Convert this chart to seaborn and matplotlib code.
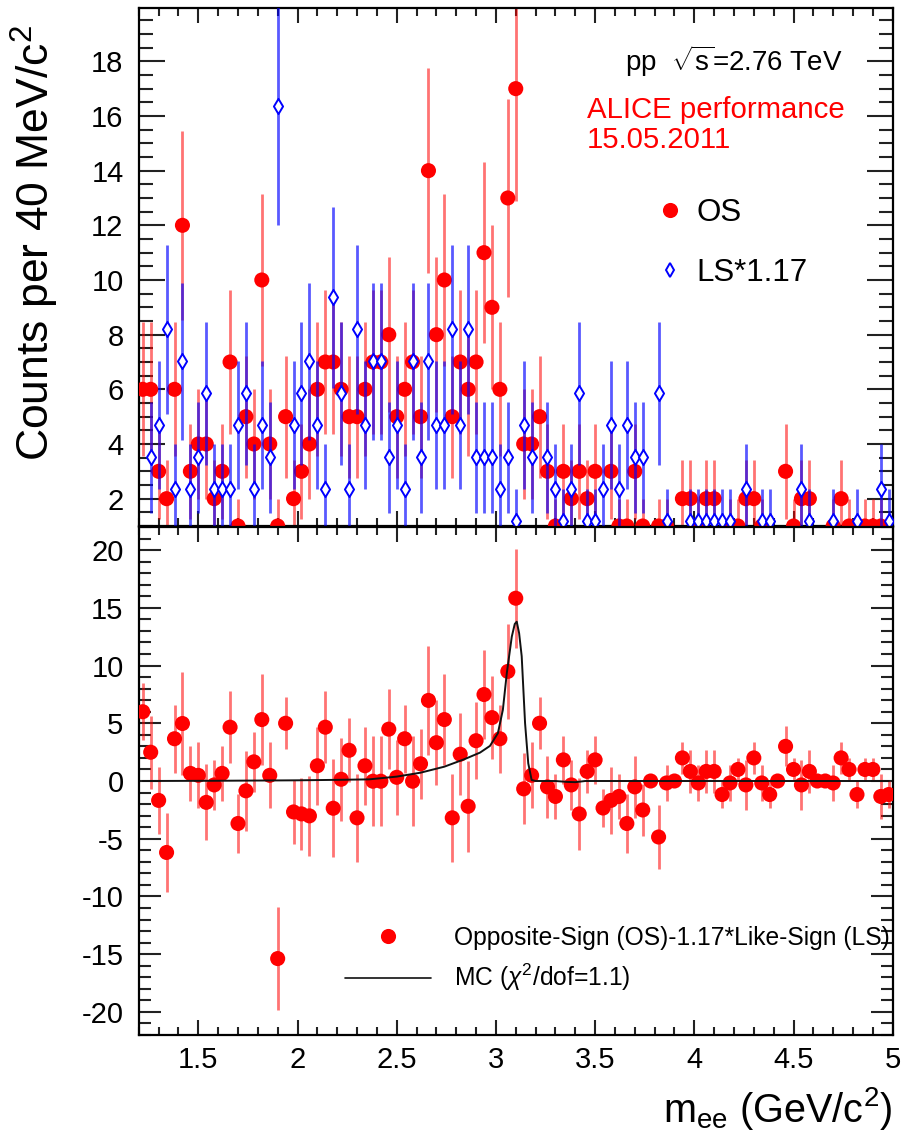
import numpy as np
import pandas as pd
import matplotlib
matplotlib.use("Agg")
import matplotlib.pyplot as plt
from matplotlib.ticker import FixedLocator, MultipleLocator, FuncFormatter
from matplotlib.lines import Line2D
import seaborn as sns

sns.set_theme(style="ticks")
plt.rcParams["font.family"] = ["Liberation Sans", "DejaVu Sans"]
plt.rcParams["mathtext.fontset"] = "custom"
plt.rcParams["mathtext.rm"] = "Liberation Sans"
plt.rcParams["mathtext.it"] = "Liberation Sans:italic"
plt.rcParams["mathtext.bf"] = "Liberation Sans:bold"
plt.rcParams["axes.unicode_minus"] = False
plt.rcParams["text.color"] = "black"
plt.rcParams["xtick.labelcolor"] = "black"
plt.rcParams["ytick.labelcolor"] = "black"
plt.rcParams["axes.labelcolor"] = "black"

# Dielectron invariant mass, 40 MeV/c^2 bins between 1.2 and 5.0 GeV/c^2
bin_lo, bin_hi, bin_w = 1.2, 5.0, 0.04
n_bins = 95
mass = np.round(bin_lo + bin_w * (np.arange(n_bins) + 0.5), 3)

# Opposite-sign pair counts per bin
os_counts = [6, 6, 3, 2, 6, 12, 3, 4, 4, 2,
             3, 7, 1, 5, 4, 10, 4, 1, 5, 2,
             3, 4, 6, 7, 7, 6, 5, 5, 6, 7,
             7, 8, 5, 6, 7, 5, 14, 8, 10, 5,
             7, 6, 7, 11, 9, 6, 13, 17, 4, 4,
             5, 3, 1, 3, 2, 3, 2, 3, 0, 3,
             1, 1, 3, 1, 0, 1, 1, 0, 2, 2,
             1, 2, 2, 0, 1, 1, 2, 2, 1, 0,
             0, 3, 1, 2, 2, 0, 0, 1, 2, 1,
             0, 1, 1, 1, 0]

# Like-sign pair counts per bin (before normalisation)
ls_counts = [0, 3, 4, 7, 2, 6, 2, 3, 5, 2,
             2, 2, 4, 5, 2, 4, 3, 14, 0, 4,
             5, 6, 4, 2, 8, 5, 2, 7, 4, 6,
             6, 3, 4, 2, 6, 3, 6, 4, 4, 7,
             4, 7, 3, 3, 3, 2, 3, 1, 4, 3,
             0, 3, 2, 1, 2, 5, 1, 1, 2, 4,
             2, 4, 3, 3, 0, 5, 1, 0, 0, 1,
             1, 1, 1, 1, 1, 0, 2, 0, 1, 1,
             0, 0, 0, 2, 1, 0, 0, 1, 0, 0,
             1, 0, 0, 2, 1]
ls_norm = 1.17

# MC J/psi line shape (with radiative tail)
mc_mass = [1.22, 1.60, 2.00, 2.20, 2.36, 2.50, 2.62, 2.74, 2.84, 2.92,
           2.97, 3.01, 3.035, 3.055, 3.08, 3.095, 3.105, 3.117, 3.130, 3.147,
           3.163, 3.180, 3.20, 3.30, 3.36, 3.40, 3.45, 3.60, 4.00, 4.50, 4.98]
mc_counts = [0.00, 0.02, 0.06, 0.10, 0.14, 0.38, 0.72, 1.24, 1.88, 2.46,
             3.04, 4.14, 6.16, 9.35, 12.5, 13.6, 13.8, 12.8, 10.8, 5.0,
             1.53, 0.09, 0.0, 0.0, -0.08, -0.1, 0.0, 0.0, 0.0, 0.0, 0.0]

os_arr = np.asarray(os_counts, float)
ls_arr = np.asarray(ls_counts, float)
top_os = pd.DataFrame({"mass": mass, "counts": os_arr, "err": np.sqrt(os_arr)})
top_ls = pd.DataFrame({"mass": mass, "counts": ls_norm * ls_arr,
                       "err": ls_norm * np.sqrt(ls_arr)})
sub = pd.DataFrame({"mass": mass, "counts": os_arr - ls_norm * ls_arr,
                    "err": np.sqrt(os_arr + ls_norm ** 2 * ls_arr)})
mc = pd.DataFrame({"mass": mc_mass, "counts": mc_counts})

W, H = 904, 1136
fig = plt.figure(figsize=(W / 100, H / 100), dpi=100)
x0, x1 = 138.8, 892.7
ax_top = fig.add_axes([x0 / W, 1 - 526 / H, (x1 - x0) / W, (526 - 8) / H])
ax_bot = fig.add_axes([x0 / W, 1 - 1035 / H, (x1 - x0) / W, (1035 - 527) / H])

RED = "#ff0000"
BLUE = "#0000ff"
red_bar = (1.0, 0.0, 0.0, 0.55)
blue_bar = (0.0, 0.0, 1.0, 0.65)

# ---- upper panel: OS and normalised LS spectra
ax_top.errorbar(top_os["mass"], top_os["counts"], yerr=top_os["err"], fmt="none",
                ecolor=red_bar, elinewidth=2.0, capsize=0, zorder=2)
sns.scatterplot(data=top_os, x="mass", y="counts", ax=ax_top, marker="o",
                color=RED, edgecolor="none", s=118, zorder=3, legend=False)
ax_top.errorbar(top_ls["mass"], top_ls["counts"], yerr=top_ls["err"], fmt="none",
                ecolor=blue_bar, elinewidth=2.0, capsize=0, zorder=4)
sns.scatterplot(data=top_ls, x="mass", y="counts", ax=ax_top, marker="d",
                color="white", edgecolor=BLUE, linewidth=1.4, s=60, zorder=5,
                legend=False)

# ---- lower panel: OS - 1.17*LS and MC
ax_bot.errorbar(sub["mass"], sub["counts"], yerr=sub["err"], fmt="none",
                ecolor=red_bar, elinewidth=2.0, capsize=0, zorder=2)
sns.scatterplot(data=sub, x="mass", y="counts", ax=ax_bot, marker="o",
                color=RED, edgecolor="none", s=118, zorder=3, legend=False)
sns.lineplot(data=mc, x="mass", y="counts", ax=ax_bot, color="#111111",
             linewidth=1.4, estimator=None, sort=False, zorder=4)

fmt = FuncFormatter(lambda v, p: "%g" % v)
for ax in (ax_top, ax_bot):
    ax.set_xlim(bin_lo, bin_hi)
    ax.xaxis.set_major_locator(MultipleLocator(0.5))
    ax.xaxis.set_minor_locator(MultipleLocator(0.1))
    ax.xaxis.set_major_formatter(fmt)
    ax.tick_params(which="both", direction="in", top=True, right=True,
                   width=1.5, color="#222222", labelsize=21, labelcolor="black")
    ax.tick_params(axis="x", which="major", length=10.5, pad=8)
    ax.tick_params(axis="x", which="minor", length=5.5)
    ax.tick_params(axis="y", pad=11)
    for sp in ax.spines.values():
        sp.set_linewidth(1.6)
        sp.set_color("black")
    ax.set_xlabel("")
    ax.set_ylabel("")
    ax.grid(False)

ax_top.set_ylim(1.0, 19.95)
ax_top.yaxis.set_major_locator(FixedLocator(np.arange(2, 19, 2)))
ax_top.yaxis.set_minor_locator(MultipleLocator(0.5))
ax_top.yaxis.set_major_formatter(fmt)
ax_top.tick_params(axis="y", which="major", length=19)
ax_top.tick_params(axis="y", which="minor", length=10)
ax_top.tick_params(axis="x", labelbottom=False)

ax_bot.set_ylim(-22, 22)
ax_bot.yaxis.set_major_locator(MultipleLocator(5))
ax_bot.yaxis.set_minor_locator(MultipleLocator(1))
ax_bot.yaxis.set_major_formatter(fmt)
ax_bot.tick_params(axis="y", which="major", length=16)
ax_bot.tick_params(axis="y", which="minor", length=8.5)

# axis titles
ax_top.set_ylabel("Counts per 40 MeV/c$^{2}$", fontsize=32, color="black")
ax_top.yaxis.label.set_va("center")
ax_top.yaxis.set_label_coords((35 - x0) / (x1 - x0), (526 - 243) / 518)
ax_bot.set_xlabel(r"m$_{\mathregular{ee}}$ (GeV/c$^{2}$)", fontsize=28.5, color="black")
ax_bot.xaxis.label.set_ha("right")
ax_bot.xaxis.label.set_va("center")
ax_bot.xaxis.set_label_coords(1.0, (1035 - 1108) / 508)

# annotations in the upper panel
def ax_top_xy(px, py):
    return (px - x0) / (x1 - x0), (526 - py) / 518

ax_top.text(*ax_top_xy(843, 71), r"pp  $\sqrt{\mathregular{s}}$=2.76 TeV",
            transform=ax_top.transAxes, ha="right", va="baseline",
            fontsize=20, color="black")
ax_top.text(*ax_top_xy(587, 118), "ALICE performance", transform=ax_top.transAxes,
            ha="left", va="baseline", fontsize=21.2, color=RED)
ax_top.text(*ax_top_xy(587, 148), "15.05.2011", transform=ax_top.transAxes,
            ha="left", va="baseline", fontsize=21.2, color=RED)

h_os = Line2D([], [], ls="none", marker="o", color=RED, mec="none", ms=10.9)
h_ls = Line2D([], [], ls="none", marker="d", mfc="white", mec=BLUE, ms=7.4, mew=1.4)
ax_top.legend([h_os, h_ls], ["OS", "LS*1.17"], loc="upper left",
              bbox_to_anchor=(654 / W, 1 - 198 / H), bbox_transform=fig.transFigure,
              frameon=False, fontsize=22.5, handlelength=1.0, handletextpad=0.35,
              labelspacing=0.95, borderpad=0, borderaxespad=0)

h_sub = Line2D([], [], ls="none", marker="o", color=RED, mec="none", ms=10.9)
h_mc = Line2D([], [], color="#111111", lw=1.2)
ax_bot.legend([h_sub, h_mc], ["Opposite-Sign (OS)-1.17*Like-Sign (LS)",
                              "MC ($\\chi^{2}$/dof=1.1)"],
              loc="upper left", bbox_to_anchor=(345 / W, 1 - 926 / H),
              bbox_transform=fig.transFigure, frameon=False, fontsize=17.7,
              handlelength=3.5, handletextpad=0.95, labelspacing=0.48,
              borderpad=0, borderaxespad=0)

fig.savefig("out.png", dpi=100, facecolor="white")
